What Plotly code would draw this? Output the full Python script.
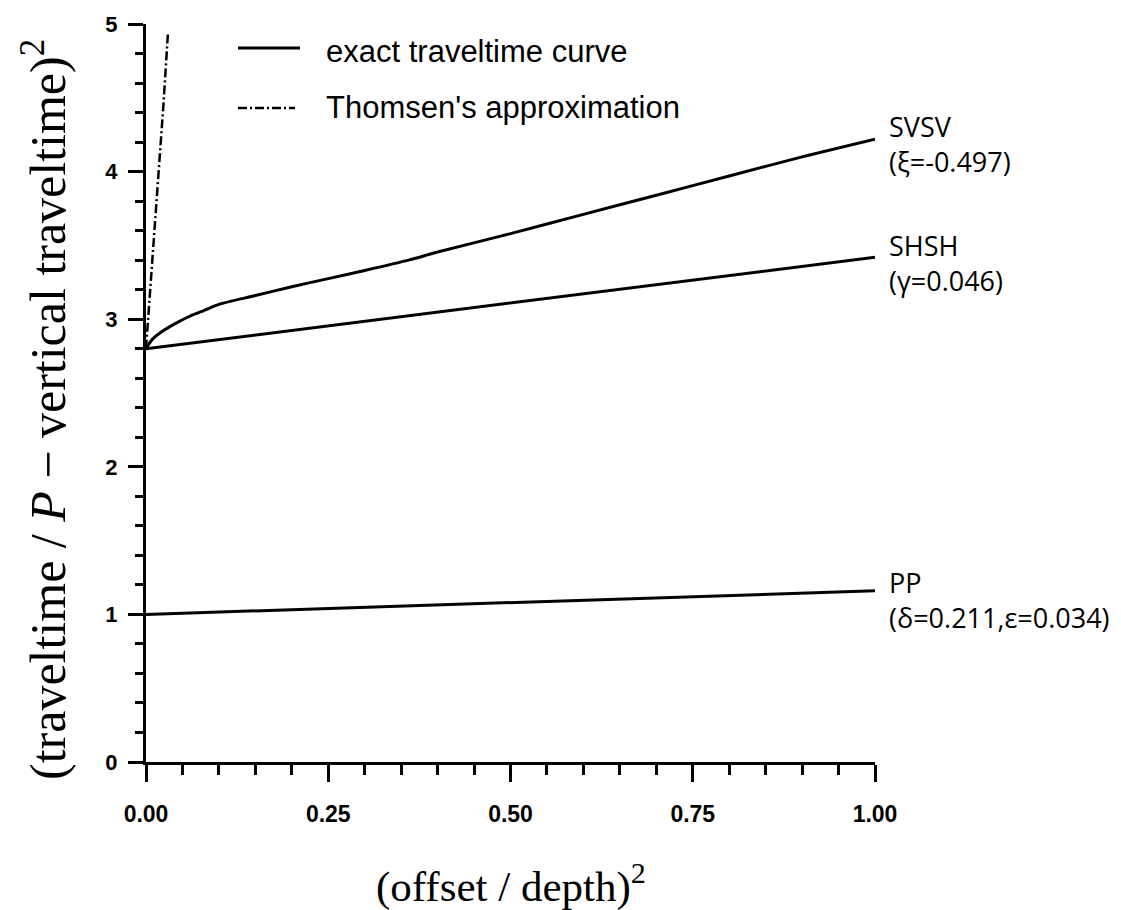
import plotly.graph_objects as go

# ---- data ----
x_svsv = [0, 0.005, 0.01, 0.02, 0.04, 0.06, 0.08, 0.1, 0.15, 0.2, 0.25, 0.3, 0.36, 0.4, 0.5, 0.6, 0.7, 0.8, 0.9, 1.0]
y_svsv = [2.80, 2.84, 2.87, 2.91, 2.97, 3.02, 3.06, 3.10, 3.16, 3.22, 3.275, 3.33, 3.40, 3.455, 3.58, 3.71, 3.84, 3.97, 4.10, 4.22]
x_shsh = [0, 1.0]
y_shsh = [2.80, 3.42]
x_pp = [0, 1.0]
y_pp = [1.00, 1.16]
x_thomsen = [0, 0.006, 0.012, 0.018, 0.024, 0.030]
y_thomsen = [2.80, 3.21, 3.61, 4.00, 4.46, 4.93]

curve_labels = ["SVSV<br>(ξ=-0.497)", "SHSH<br>(γ=0.046)", "PP<br>(δ=0.211,ε=0.034)"]
label_y = [4.19, 3.38, 1.10]

x_ticks = [0, 0.25, 0.5, 0.75, 1.0]
x_ticklabels = ["0.00", "0.25", "0.50", "0.75", "1.00"]
y_ticks = [0, 1, 2, 3, 4, 5]
y_ticklabels = ["0", "1", "2", "3", "4", "5"]

legend_names = ["exact traveltime curve", "Thomsen's approximation"]

W, H = 1121, 910
L, R, T, B = 138, 254, 16, 156
pw, ph = W - L - R, H - T - B

def px(x):
    return (x - L) / pw

def py(y):
    return (H - B - y) / ph

fig = go.Figure()
line_style = dict(color="black", width=3)
fig.add_trace(go.Scatter(x=x_svsv, y=y_svsv, mode="lines",
                         line=dict(color="black", width=3, shape="spline", smoothing=0.8),
                         showlegend=False, hoverinfo="skip"))
for xs, ys in [(x_shsh, y_shsh), (x_pp, y_pp)]:
    fig.add_trace(go.Scatter(x=xs, y=ys, mode="lines", line=line_style,
                             showlegend=False, hoverinfo="skip"))
dashdot = "9px,3px,2px,3px"
fig.add_trace(go.Scatter(x=x_thomsen, y=y_thomsen, mode="lines",
                         line=dict(color="black", width=2.5, dash=dashdot),
                         showlegend=False, hoverinfo="skip"))

# curve labels at right
for txt, yv in zip(curve_labels, label_y):
    fig.add_annotation(x=1.0, y=yv, xref="x", yref="y", text=txt, showarrow=False,
                       xanchor="left", yanchor="middle", align="left", xshift=12,
                       font=dict(family="Open Sans", size=27, color="black"))

# manual legend
fig.add_shape(type="line", xref="paper", yref="paper", x0=px(230), x1=px(292),
              y0=py(40), y1=py(40), line=dict(color="black", width=3))
fig.add_shape(type="line", xref="paper", yref="paper", x0=px(230), x1=px(287),
              y0=py(100), y1=py(100), line=dict(color="black", width=2.5, dash=dashdot))
fig.add_annotation(x=px(316), y=py(44), xref="paper", yref="paper", text=legend_names[0],
                   showarrow=False, xanchor="left", yanchor="middle",
                   font=dict(family="Liberation Sans", size=31, color="black"))
fig.add_annotation(x=px(316), y=py(100), xref="paper", yref="paper", text=legend_names[1],
                   showarrow=False, xanchor="left", yanchor="middle",
                   font=dict(family="Liberation Sans", size=31, color="black"))

# axis titles
fig.add_annotation(x=0.5, y=py(905), xref="paper", yref="paper",
                   text="(offset / depth)<sup>2</sup>", showarrow=False,
                   xanchor="center", yanchor="bottom",
                   font=dict(family="Liberation Serif", size=43, color="black"))
fig.add_annotation(x=px(36), y=py(402), xref="paper", yref="paper",
                   text="(traveltime / <i>P</i> − vertical traveltime)<sup>2</sup>", showarrow=False,
                   textangle=-90, xanchor="center", yanchor="middle",
                   font=dict(family="Liberation Serif", size=50, color="black"))

fig.update_xaxes(range=[0, 1], tickvals=x_ticks, ticktext=x_ticklabels,
                 showline=True, linecolor="black", linewidth=3, mirror=False,
                 ticks="outside", ticklen=17, tickwidth=3, tickcolor="black",
                 ticklabelstandoff=12,
                 minor=dict(dtick=0.05, ticks="outside", ticklen=10, tickwidth=3, tickcolor="black"),
                 showgrid=False, zeroline=False,
                 tickfont=dict(family="Liberation Sans", size=23, color="black", weight="bold"))
fig.update_yaxes(range=[0, 5], tickvals=y_ticks, ticktext=y_ticklabels,
                 showline=True, linecolor="black", linewidth=3, mirror=False,
                 ticks="outside", ticklen=15, tickwidth=3, tickcolor="black",
                 ticklabelstandoff=6,
                 minor=dict(dtick=0.2, ticks="outside", ticklen=8, tickwidth=3, tickcolor="black"),
                 showgrid=False, zeroline=False,
                 tickfont=dict(family="Liberation Sans", size=22, color="black", weight="bold"))

fig.update_layout(width=W, height=H, margin=dict(l=L, r=R, t=T, b=B, autoexpand=False),
                  plot_bgcolor="white", paper_bgcolor="white", showlegend=False)

fig.write_html("out.html")
